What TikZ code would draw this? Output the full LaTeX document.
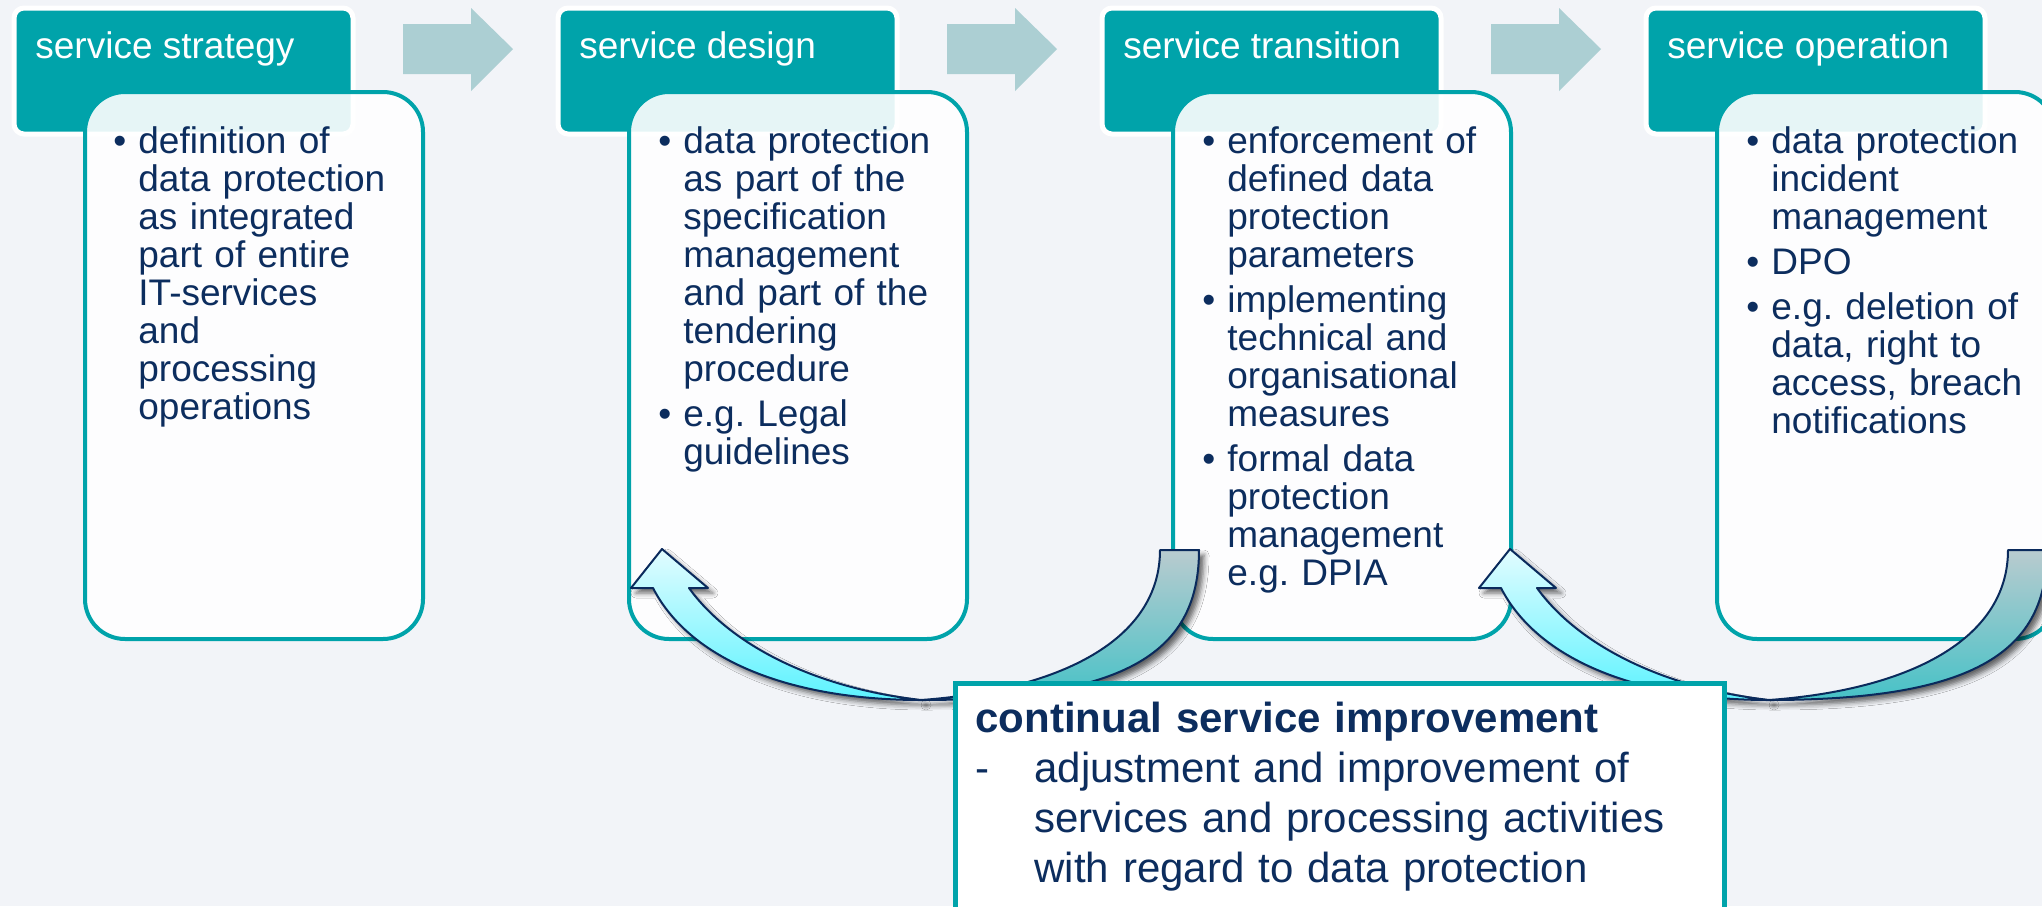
\documentclass[tikz,border=0pt]{standalone}
\usepackage{fontspec}
\setmainfont{Liberation Sans}
\usetikzlibrary{shadows.blur}
\frenchspacing

\definecolor{pagebg}{HTML}{F2F4F8}
\definecolor{phaseteal}{HTML}{00A3AA}
\definecolor{stepgray}{HTML}{ACCFD3}
\definecolor{inknavy}{HTML}{0C2D5E}
\definecolor{rimnavy}{HTML}{0A2A5C}
\definecolor{tailtop}{HTML}{B9CBCF}
\definecolor{tailbot}{HTML}{46C2C7}
\definecolor{headtop}{HTML}{E2FCFF}
\definecolor{headbot}{HTML}{5CF3FF}

\tikzset{
  phasebox/.style={fill=phaseteal, draw=white, line width=2.5pt, rounded corners=5pt},
  listbox/.style={fill=white, fill opacity=0.9, draw=phaseteal, line width=2pt, rounded corners=20pt},
  phasetitle/.style={anchor=base west, inner sep=0pt, text=white, font=\fontsize{18.5}{19}\selectfont},
  phaselist/.style={anchor=base west, inner sep=0pt, text=inknavy, text width=150pt, align=left, font=\fontsize{18.5}{19}\selectfont},
  csibox/.style={fill=white, draw=phaseteal, line width=2.5pt},
  csitext/.style={anchor=base west, inner sep=0pt, text=inknavy, text width=380pt, align=left, font=\fontsize{21}{25}\selectfont},
  loopback/.style={draw=rimnavy, line width=1pt, line join=round,
    blur shadow={shadow xshift=2.5pt, shadow yshift=-2.5pt, shadow blur radius=2.5pt, shadow opacity=60}},
}
\newcommand{\bul}{\leavevmode\llap{\textbullet\hspace{6pt}}}

\begin{document}
\begin{tikzpicture}[x=0.5pt,y=-0.5pt]
\clip (0,0) rectangle (2042,906);
\fill[pagebg] (0,0) rectangle (2042,906);

\foreach \x/\nm/\ttl in {0/strat/service strategy,544/design/service design,1088/trans/service transition,1632/oper/service operation}{
  \draw[phasebox] (14+\x,8) rectangle (353+\x,134);
  \node[phasetitle] (\nm-title) at (35+\x,58) {\ttl};
}
\foreach \x in {0,544,1088}
  \fill[stepgray] (403+\x,24) -- (471+\x,24) -- (471+\x,8) -- (513+\x,49) -- (471+\x,91) -- (471+\x,74) -- (403+\x,74) -- cycle;
\foreach \x in {0,544,1088,1632}
  \draw[listbox] (85+\x,92) rectangle (423+\x,639);

\node[phaselist] (strat) at (138,153) {\bul definition of\\ data protection\\ as integrated\\ part of entire\\ IT-services\\ and\\ processing\\ operations};
\node[phaselist] (design) at (683,153) {\bul data protection\\ as part of the\\ specification\\ management\\ and part of the\\ tendering\\ procedure\\[3.5pt]
  \bul e.g. Legal\\ guidelines};
\node[phaselist] (trans) at (1227,153) {\bul enforcement of\\ defined data\\ protection\\ parameters\\[3.5pt]
  \bul implementing\\ technical and\\ organisational\\ measures\\[3.5pt]
  \bul formal data\\ protection\\ management\\ e.g. DPIA};
\node[phaselist] (oper) at (1771,153) {\bul data protection\\ incident\\ management\\[3.5pt]
  \bul DPO\\[3.5pt]
  \bul e.g. deletion of\\ data, right to\\ access, breach\\ notifications};

\foreach \s in {0,848}{
  \draw[loopback, top color=tailtop, bottom color=tailbot]
    (1160+\s,550) -- (1199+\s,550) .. controls (1199+\s,650) and (1130+\s,700) .. (921+\s,700)
    .. controls (1060+\s,690) and (1160+\s,640) .. (1160+\s,550) -- cycle;
  \draw[loopback, top color=headtop, bottom color=headbot]
    (921+\s,700) .. controls (790+\s,700) and (690+\s,660) .. (653+\s,588) -- (631+\s,588)
    -- (662+\s,549) -- (708+\s,588) -- (689+\s,588) .. controls (730+\s,645) and (815+\s,688) .. (921+\s,700) -- cycle;
}

\draw[csibox] (955,683) rectangle (1724,930);
\node[csitext] (csi) at (975,732) {\textbf{continual service improvement}\\
  \makebox[29.5pt][l]{-}adjustment and improvement of\\
  \hspace*{29.5pt}services and processing activities\\
  \hspace*{29.5pt}with regard to data protection};
\end{tikzpicture}
\end{document}
